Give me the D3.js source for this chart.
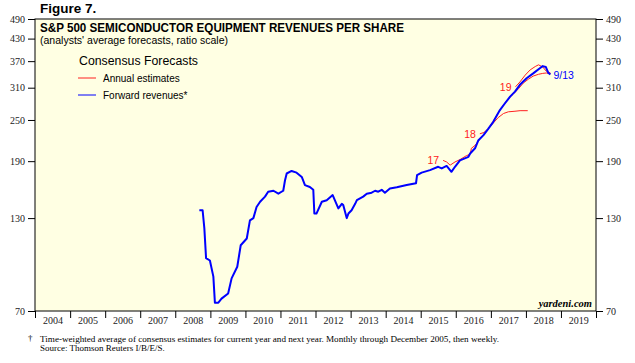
<!DOCTYPE html>
<html><head><meta charset="utf-8">
<script src="https://cdn.jsdelivr.net/npm/d3@7/dist/d3.min.js"></script>
<style>body{margin:0;background:#fff}svg{display:block}</style>
</head><body><svg id="c" width="635" height="363"></svg>
<script>
const yTicks=[70,130,190,250,310,370,430,490];
const years=d3.range(2004,2020);
const fwdDates=["2008-09-08","2008-10-12","2008-10-30","2008-11-17","2008-12-27","2009-02-01","2009-02-17","2009-03-25","2009-04-27","2009-07-05","2009-08-10","2009-10-08","2009-11-13","2010-01-15","2010-02-17","2010-03-25","2010-04-27","2010-06-03","2010-07-24","2010-08-26","2010-10-20","2010-12-10","2011-01-30","2011-02-17","2011-03-07","2011-04-27","2011-06-18","2011-08-11","2011-09-13","2011-11-03","2011-12-09","2011-12-20","2012-01-11","2012-03-07","2012-04-27","2012-06-28","2012-08-26","2012-10-01","2012-10-16","2012-11-21","2012-12-09","2013-01-11","2013-02-17","2013-03-07","2013-05-12","2013-06-18","2013-08-08","2013-09-13","2013-10-16","2013-11-21","2013-12-24","2014-02-14","2014-04-27","2014-08-08","2014-11-13","2014-11-24","2015-01-11","2015-04-08","2015-07-02","2015-08-08","2015-09-28","2015-11-17","2015-12-24","2016-02-14","2016-05-12","2016-05-30","2016-07-20","2016-08-22","2016-10-16","2016-12-06","2017-01-26","2017-04-05","2017-05-26","2017-07-20","2017-09-09","2017-10-30","2018-01-08","2018-03-18","2018-05-26","2018-06-25","2018-07-27","2018-08-22","2018-09-13"];
const fwdValues=[137,137,121.6,99.6,98,88,74,74,76,78.7,87,94,108.5,113.5,128,130,140,145,150,155,156,153,156,167,175,178,176,171,162,160,157,134,134,145,146.5,151.6,138.7,143,141.8,130,134,137,143,146.5,150,153,154,156,155,157,154,158.4,159.6,162,164,173,176,179,183,181,184,177,183,191,195.6,200,207,218,226,236,247,267,279,292,302,316,330,341,353,358,356,342,339];
const est17Dates=["2015-08-22","2015-09-28","2015-11-03","2015-11-10","2015-12-24","2016-02-14","2016-04-20","2016-05-30","2016-06-12","2016-07-20","2016-09-08","2016-10-20","2016-12-06","2017-01-26","2017-03-18","2017-05-12","2017-07-02","2017-09-09","2017-11-01","2018-01-20"];
const est17Values=[191,189,185,185.5,189,192,197,199,207,211,220,227,236,245,254,261,264,265,266,266];
const est18Dates=["2016-09-08","2016-10-20","2016-12-06","2017-01-26","2017-03-18","2017-05-12","2017-07-02","2017-08-22","2017-10-16","2017-12-06","2018-01-26","2018-03-18","2018-05-12","2018-06-25","2018-08-01","2018-09-13"];
const est18Values=[228,230,236,248,262,276,288,297,308,320,328,335,339,341,342,340];
const est19Dates=["2017-09-15","2017-10-30","2017-12-24","2018-02-14","2018-04-08","2018-05-12","2018-06-25","2018-08-01","2018-09-13"];
const est19Values=[312,322,337,349,357,361,356,346,342];
const estLabels=["17","18","19"];

const P=d3.timeParse("%Y-%m-%d");
const svg=d3.select("#c");
const L=35,R=596,T=19,B=311;
const x=d3.scaleTime().domain([new Date(2004,0,1),new Date(2020,0,1)]).range([L,R]);
const y=d3.scaleLog().domain([70,490]).range([B,T]);
const serif="'Liberation Serif','Times New Roman',serif";
const sans="'Liberation Sans',Arial,sans-serif";

svg.append("rect").attr("x",L).attr("y",T).attr("width",R-L).attr("height",B-T)
  .attr("fill","#FFFFE3").attr("stroke","#000").attr("stroke-width",1);

function styleAxis(g){
  g.select(".domain").remove();
  g.selectAll("line").attr("stroke","#000");
  g.selectAll("text").attr("font-family",serif).attr("font-size",10).attr("fill","#222");
}
svg.append("g").attr("transform",`translate(${L},0)`)
  .call(d3.axisLeft(y).tickValues(yTicks).tickFormat(d3.format("d")).tickSize(7).tickPadding(3)).call(styleAxis);
svg.append("g").attr("transform",`translate(${R},0)`)
  .call(d3.axisRight(y).tickValues(yTicks).tickFormat(d3.format("d")).tickSize(7).tickPadding(3)).call(styleAxis);
svg.append("g").attr("transform",`translate(0,${B})`)
  .call(d3.axisBottom(x).tickValues(d3.range(2004,2021).map(v=>new Date(v,0,1))).tickFormat("").tickSize(7)).call(styleAxis);
svg.append("g").attr("transform",`translate(0,${B})`)
  .call(d3.axisBottom(x).tickValues(years.map(v=>new Date(v,6,1))).tickFormat(d3.timeFormat("%Y")).tickSize(0).tickPadding(6)).call(styleAxis);

const line=d3.line().x(d=>x(d[0])).y(d=>y(d[1]));
const ests=[[est17Dates,est17Values],[est18Dates,est18Values],[est19Dates,est19Values]];
ests.forEach(([ds,vs],i)=>{
  const pts=ds.map((d,j)=>[P(d),vs[j]]);
  svg.append("path").datum(pts).attr("d",line).attr("fill","none").attr("stroke","#FF2020").attr("stroke-width",1);
  svg.append("text").attr("x",x(pts[0][0])-4).attr("y",y(pts[0][1])+4).attr("text-anchor","end")
    .attr("font-family",sans).attr("font-size",10.5).attr("fill","#FF2020").text(estLabels[i]);
});
const fwd=fwdDates.map((d,j)=>[P(d),fwdValues[j]]);
svg.append("path").datum(fwd).attr("d",line).attr("fill","none").attr("stroke","#0000FF").attr("stroke-width",2).attr("stroke-linejoin","round");
const last=fwd[fwd.length-1];
svg.append("text").attr("x",x(last[0])+3).attr("y",y(last[1])+5).attr("font-family",sans).attr("font-size",10.5).attr("fill","#0000FF").text("9/13");

// titles
svg.append("text").attr("x",40).attr("y",13).attr("font-family",sans).attr("font-weight","bold").attr("font-size",13.5).text("Figure 7.");
svg.append("text").attr("x",40).attr("y",32).attr("font-family",sans).attr("font-weight","bold").attr("font-size",12.5)
  .attr("textLength",364).attr("lengthAdjust","spacingAndGlyphs").text("S&P 500 SEMICONDUCTOR EQUIPMENT REVENUES PER SHARE");
svg.append("text").attr("x",40).attr("y",44).attr("font-family",sans).attr("font-size",10)
  .attr("textLength",188).attr("lengthAdjust","spacingAndGlyphs").text("(analysts' average forecasts, ratio scale)");
// legend
svg.append("text").attr("x",79).attr("y",65).attr("font-family",sans).attr("font-size",12)
  .attr("textLength",119).attr("lengthAdjust","spacingAndGlyphs").text("Consensus Forecasts");
[["Annual estimates","#FF2020",78],["Forward revenues*","#0000FF",95]].forEach(([t,c,yy])=>{
  svg.append("line").attr("x1",78).attr("x2",96).attr("y1",yy).attr("y2",yy).attr("stroke",c).attr("stroke-width",1);
  svg.append("text").attr("x",103).attr("y",yy+4).attr("font-family",sans).attr("font-size",10).text(t);
});
svg.append("text").attr("x",592).attr("y",307).attr("text-anchor","end").attr("font-family",serif)
  .attr("font-style","italic").attr("font-weight","bold").attr("font-size",10.5).text("yardeni.com");
// footnotes
svg.append("text").attr("x",28).attr("y",341).attr("font-family",serif).attr("font-size",9).text("†");
svg.append("text").attr("x",40).attr("y",342).attr("font-family",serif).attr("font-size",9)
  .attr("textLength",459).attr("lengthAdjust","spacingAndGlyphs")
  .text("Time-weighted average of consensus estimates for current year and next year. Monthly through December 2005, then weekly.");
svg.append("text").attr("x",40).attr("y",351).attr("font-family",serif).attr("font-size",9).text("Source: Thomson Reuters I/B/E/S.");
</script></body></html>
